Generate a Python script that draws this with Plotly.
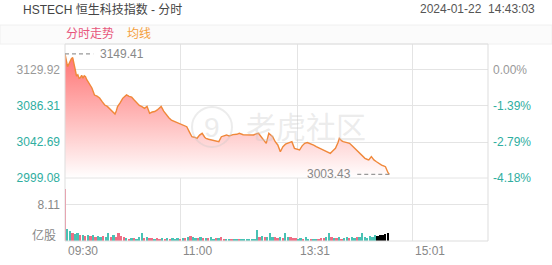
import plotly.graph_objects as go

# ---------------- data ----------------
prev_close = 3129.92
title_text = "HSTECH 恒生科技指数 - 分时"
stamp_text = "2024-01-22  14:43:03"

times = ["09:30","09:31","09:32","09:33","09:34","09:35","09:36","09:37","09:38","09:39",
         "09:40","09:41","09:42","09:43","09:44","09:45","09:46","09:47","09:48","09:49",
         "09:50","09:51","09:52","09:53","09:55","09:57","09:59","10:01","10:03","10:05",
         "10:06","10:08","10:09","10:10","10:11","10:13","10:15","10:17","10:18","10:20",
         "10:22","10:24","10:26","10:28","10:30","10:32","10:34","10:35","10:36","10:38",
         "10:40","10:42","10:44","10:45","10:47","10:49","10:51","10:53","10:55","10:58",
         "11:01","11:03","11:05","11:07","11:09","11:11","11:13","11:15","11:17","11:19",
         "11:20","11:22","11:24","11:27","11:30","11:32","11:34","11:36","11:38","11:41",
         "11:44","11:46","11:49","11:52","11:55","11:57","12:00","13:01","13:03","13:05",
         "13:07","13:09","13:11","13:12","13:14","13:16","13:18","13:20","13:22","13:24",
         "13:27","13:29","13:31","13:33","13:35","13:37","13:39","13:41","13:44","13:46",
         "13:49","13:51","13:54","13:57","13:59","14:01","14:03","14:04","14:06","14:07",
         "14:10","14:12","14:14","14:16","14:18","14:20","14:22","14:24","14:26","14:27",
         "14:29","14:31","14:33","14:35","14:37","14:39","14:40","14:42","14:43"]
prices = [3149.41,3140.5,3133.9,3137.2,3140.8,3143.5,3145.0,3139.0,3130.2,3122.5,
          3124.0,3119.8,3120.6,3123.4,3120.1,3123.0,3121.8,3118.2,3115.7,3113.5,
          3110.2,3108.1,3104.0,3099.6,3098.2,3096.0,3091.5,3087.5,3085.8,3083.0,
          3081.5,3079.0,3076.5,3080.2,3085.5,3090.0,3095.6,3098.5,3099.8,3098.0,
          3097.0,3093.5,3089.6,3087.0,3085.5,3083.5,3085.8,3081.0,3077.5,3079.0,
          3079.6,3081.5,3084.0,3085.8,3080.0,3075.4,3072.0,3069.3,3068.0,3065.3,
          3063.3,3062.0,3061.2,3055.0,3049.1,3048.5,3047.2,3051.0,3053.2,3048.5,
          3047.0,3046.0,3045.1,3044.0,3043.1,3049.1,3050.5,3051.2,3050.0,3051.6,
          3052.0,3053.2,3051.5,3051.2,3050.6,3051.2,3053.0,3053.2,3049.1,3045.0,
          3041.1,3053.2,3050.0,3049.1,3043.0,3039.1,3030.9,3037.0,3040.0,3041.1,
          3043.1,3035.0,3034.0,3033.0,3038.0,3041.1,3042.0,3041.1,3039.0,3037.0,
          3035.0,3033.0,3031.0,3029.0,3032.0,3035.0,3042.0,3047.2,3044.0,3043.1,
          3042.0,3041.1,3038.0,3035.0,3032.0,3029.0,3026.0,3022.9,3021.5,3020.9,
          3024.9,3021.0,3018.8,3016.5,3014.8,3013.5,3012.8,3005.5,3003.43]

# volume (亿股), one bar every two trading minutes from 09:30; direction r = up, g = down
volumes = [11.7,2.7,2.2,1.7,1.6,1.7,1.3,1.4,1.2,1.4,1.1,1.3,1.0,1.2,1.0,1.1,0.9,1.9,1.0,1.3,
           1.0,1.9,1.2,0.8,0.6,0.5,0.6,0.7,0.5,0.9,1.8,0.6,0.9,0.7,0.6,0.5,0.6,0.5,0.6,0.5,
           0.7,0.5,0.6,0.4,0.6,0.5,0.7,0.6,1.0,1.2,0.8,0.6,0.7,0.8,0.6,0.7,0.6,0.8,0.5,0.7,
           0.6,0.9,0.5,0.4,0.4,0.3,0.4,0.3,0.4,0.3,0.3,0.4,0.3,0.4,0.5,2.5,1.0,1.2,0.9,1.0,
           1.8,0.9,1.0,0.7,0.9,0.7,1.7,1.0,0.8,0.6,0.7,0.5,0.6,0.5,1.0,0.5,0.4,0.5,0.4,0.5,
           0.6,0.7,0.8,1.7,0.9,0.7,0.6,0.8,0.5,0.7,0.8,0.6,0.9,0.7,1.0,0.8,1.9,0.9,0.7,1.1,
           0.9,1.3,1.1,1.4,1.3,1.6,1.8]
vol_dirs = "rggrggrgrgrgrggrggrgrrrrgrgrgggrgrrgrrgrgrgggrgrgrggrgrgrggrgrrggrggrggggg" \
           "ggrgrgggrrgrggrrrggrggrggrrrggrgrgrggrggrggggggg"

x_ticks = ["09:30", "11:00", "13:31", "15:01"]
y_ticks = [3129.92, 3086.31, 3042.69, 2999.08]
vol_tick = 8.11

# ---------------- helpers ----------------
def tmin(s):
    h, m = map(int, s.split(":"))
    t = h * 60 + m
    return t - 570 if t <= 720 else t - 780 + 150

L, R, T, B = 65, 488, 44, 241
W, H = R - L, B - T
def px(x): return (x - L) / W
def py(y): return (B - y) / H

split = py(178)

xm = [tmin(t) for t in times]
vx = [2 * i for i in range(len(volumes))]
RED, TEAL, GRID = "#ef6d84", "#48c2b4", "#e4e4e4"
vcol = [RED if c == "r" else TEAL for c in vol_dirs[:len(volumes)]]
FONT = "Arial, 'Liberation Sans', 'Noto Sans CJK SC', sans-serif"

ymin, ymax = 2999.08, 3161.4

fig = go.Figure()
fig.add_trace(go.Scatter(
    x=xm, y=prices, mode="lines", line=dict(color="#f0883a", width=1.4),
    fill="tozeroy",
    fillgradient=dict(type="vertical", start=ymin, stop=3150,
                      colorscale=[[0, "rgba(255,255,255,1)"], [1, "rgba(255,110,110,0.97)"]]),
    xaxis="x", yaxis="y", showlegend=False, hoverinfo="skip"))
fig.add_trace(go.Scatter(x=[0], y=[prev_close], mode="markers", marker=dict(opacity=0),
                         xaxis="x", yaxis="y3", showlegend=False, hoverinfo="skip"))
fig.add_trace(go.Bar(x=vx, y=volumes, marker=dict(color=vcol, line=dict(width=0)),
                     width=1.4, xaxis="x2", yaxis="y2", showlegend=False, hoverinfo="skip"))

def ytxt(v, i):
    col = "#999999" if i == 0 else "#2fae9f"
    return f'<span style="color:{col}">{v:.2f}</span>'

def ptxt(v, i):
    col = "#999999" if i == 0 else "#2fae9f"
    p = (v / prev_close - 1) * 100
    return f'<span style="color:{col}">{p:.2f}%</span>'

xt = [tmin(t) for t in x_ticks] + [330]
axis_x = dict(range=[0, 330], tickvals=xt, showticklabels=False, showgrid=True,
              gridcolor=GRID, gridwidth=1, zeroline=False, showline=False, ticks="")
fig.update_layout(
    width=552, height=265, margin=dict(l=L, r=552 - R, t=T, b=265 - B),
    paper_bgcolor="white", plot_bgcolor="white", bargap=0,
    font=dict(family=FONT, size=12, color="#888888"),
    xaxis=dict(axis_x, domain=[0, 1], anchor="y"),
    xaxis2=dict(axis_x, domain=[0, 1], anchor="y2", matches="x"),
    yaxis=dict(domain=[split, 1], range=[ymin, ymax], tickvals=y_ticks,
               ticktext=[ytxt(v, i) for i, v in enumerate(y_ticks)],
               showgrid=True, gridcolor=GRID, zeroline=False, ticks="",
               ticklabelstandoff=4, tickfont=dict(size=12)),
    yaxis3=dict(overlaying="y", side="right", anchor="x", range=[ymin, ymax], tickvals=y_ticks,
                ticktext=[ptxt(v, i) for i, v in enumerate(y_ticks)],
                showgrid=False, zeroline=False, ticks="", ticklabelstandoff=4,
                tickfont=dict(size=12)),
    yaxis2=dict(domain=[0, split], range=[0, 14.19], tickvals=[vol_tick],
                ticktext=[f"{vol_tick:.2f}"], showgrid=True, gridcolor=GRID,
                zeroline=False, ticks="", ticklabelstandoff=4,
                tickfont=dict(size=12, color="#888888")),
)

shapes = [
    dict(type="rect", xref="paper", yref="paper", x0=px(0), x1=px(552), y0=py(44), y1=py(25),
         fillcolor="#fbfbfb", line=dict(color="#f0f0f0", width=1), layer="below"),
    dict(type="rect", xref="paper", yref="paper", x0=0, x1=1, y0=0, y1=1,
         line=dict(color="#dddddd", width=1)),
    dict(type="line", xref="paper", yref="paper", x0=0, x1=1, y0=split, y1=split,
         line=dict(color=GRID, width=1)),
    dict(type="circle", xref="paper", yref="paper", x0=px(192), x1=px(232), y0=py(147), y1=py(107),
         line=dict(color="rgba(200,200,200,0.35)", width=2)),
]

imax = prices.index(max(prices))
imin = prices.index(min(prices))
shapes.append(dict(type="line", xref="x", yref="y", x0=xm[imax], x1=xm[imax] + 22,
                   y0=prices[imax], y1=prices[imax],
                   line=dict(color="#999999", width=1.3, dash="4px,3px")))
shapes.append(dict(type="line", xref="x", yref="y", x0=xm[imin] - 25, x1=xm[imin],
                   y0=prices[imin], y1=prices[imin],
                   line=dict(color="#999999", width=1.3, dash="4px,3px")))
fig.update_layout(shapes=shapes)

ann = [
    dict(text=title_text, xref="paper", yref="paper", x=px(21), y=py(9), xanchor="left",
         yanchor="middle", showarrow=False, font=dict(size=12, color="#444444")),
    dict(text=stamp_text, xref="paper", yref="paper", x=px(537), y=py(9), xanchor="right",
         yanchor="middle", showarrow=False, font=dict(size=12, color="#555555")),
    dict(text="分时走势", xref="paper", yref="paper", x=px(64), y=py(34), xanchor="left",
         yanchor="middle", showarrow=False, font=dict(size=12, color="#e8567c")),
    dict(text="均线", xref="paper", yref="paper", x=px(125), y=py(34), xanchor="left",
         yanchor="middle", showarrow=False, font=dict(size=12, color="#f5a03c")),
    dict(text="老虎社区", xref="paper", yref="paper", x=px(244), y=py(128), xanchor="left",
         yanchor="middle", showarrow=False, font=dict(size=30, color="rgba(200,200,200,0.35)")),
    dict(text="9", xref="paper", yref="paper", x=px(212), y=py(127), xanchor="center",
         yanchor="middle", showarrow=False, font=dict(size=28, color="rgba(200,200,200,0.35)")),
    dict(text=f"{prices[imax]:.2f}", xref="x", yref="y", x=xm[imax] + 26, y=prices[imax],
         xanchor="left", yanchor="middle", showarrow=False, font=dict(size=12, color="#888888")),
    dict(text=f"{prices[imin]:.2f}", xref="x", yref="y", x=xm[imin] - 28, y=prices[imin],
         xanchor="right", yanchor="middle", showarrow=False, font=dict(size=12, color="#888888")),
    dict(text="亿股", xref="paper", yref="paper", x=0, xshift=-7, y=py(235), xanchor="right",
         yanchor="middle", showarrow=False, font=dict(size=12, color="#888888")),
]
for t in x_ticks:
    ann.append(dict(text=t, xref="x", yref="paper", x=tmin(t), xshift=1, y=py(251),
                    xanchor="left", yanchor="middle", showarrow=False,
                    font=dict(size=12, color="#888888")))
fig.update_layout(annotations=ann)

fig.write_html("out.html")
